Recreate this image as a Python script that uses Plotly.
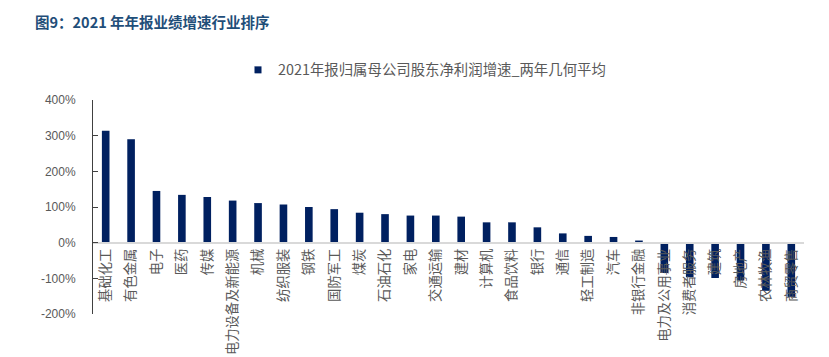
import plotly.graph_objects as go

categories = ["基础化工", "有色金属", "电子", "医药", "传媒", "电力设备及新能源", "机械", "纺织服装",
              "钢铁", "国防军工", "煤炭", "石油石化", "家电", "交通运输", "建材", "计算机",
              "食品饮料", "银行", "通信", "轻工制造", "汽车", "非银行金融", "电力及公用事业",
              "消费者服务", "建筑", "房地产", "农林牧渔", "商贸零售"]
values = [314, 290, 145, 134, 128, 118, 111, 107, 100, 94, 84, 80, 76, 76, 73, 57,
          57, 43, 26, 19, 16, 6, -85, -97, -99, -106, -135, -152]
y_ticks = [-200, -100, 0, 100, 200, 300, 400]
y_tick_labels = ["-200%", "-100%", "0%", "100%", "200%", "300%", "400%"]
series_name = "2021年报归属母公司股东净利润增速_两年几何平均"
title_text = "图9：2021 年年报业绩增速行业排序"

FONT = "Liberation Sans, Noto Sans CJK SC, sans-serif"
CJK = "Noto Sans CJK SC, sans-serif"
BAR = "#002060"

fig = go.Figure()
fig.add_trace(go.Bar(
    x=categories, y=values, name=series_name,
    marker=dict(color=BAR, line=dict(width=0)),
    showlegend=False,
))
# legend entry with a small square symbol like the original
fig.add_trace(go.Scatter(
    x=[None], y=[None], mode="markers", name=series_name,
    marker=dict(symbol="square", size=7, color=BAR),
    showlegend=True, hoverinfo="skip",
))

ymin, ymax = -200, 400
zero_pos = (0 - ymin) / (ymax - ymin)

L, R, T, B = 85, 33, 92, 51
plot_w = 829 - L - R
plot_h = 357 - T - B

fig.add_annotation(
    text="<b>" + title_text + "</b>", xref="paper", yref="paper",
    x=(25 - L) / plot_w, xanchor="left",
    y=1 + (T - 1) / plot_h, yanchor="top",
    showarrow=False, font=dict(family=CJK, size=14.5, color="#1F4E79"),
)

fig.update_layout(
    width=829, height=357,
    margin=dict(l=L, r=R, t=T, b=B, autoexpand=False),
    paper_bgcolor="white", plot_bgcolor="white",
    bargap=0.7,
    font=dict(family=FONT, color="#595959", size=12),
    legend=dict(orientation="h", x=(230 - L) / plot_w, xanchor="left",
                y=1 + 30 / plot_h, yanchor="middle",
                font=dict(family=CJK, size=14.4, color="#595959"),
                itemwidth=30, bgcolor="rgba(0,0,0,0)"),
    xaxis=dict(
        type="category", anchor="free", position=zero_pos,
        showline=True, linecolor="#D9D9D9", linewidth=1.5,
        ticks="", tickangle=-90, showgrid=False,
        tickfont=dict(family=CJK, size=13.3, color="#595959"),
        automargin=False, layer="above traces",
    ),
    yaxis=dict(
        range=[ymin, ymax], tickvals=y_ticks, ticktext=y_tick_labels,
        showline=True, linecolor="#404040", linewidth=1,
        ticks="inside", ticklen=5, tickcolor="#404040",
        showgrid=False, zeroline=False,
        tickfont=dict(family=FONT, size=12, color="#595959"),
        ticklabelstandoff=14, automargin=False,
    ),
)

fig.write_html("out.html")
